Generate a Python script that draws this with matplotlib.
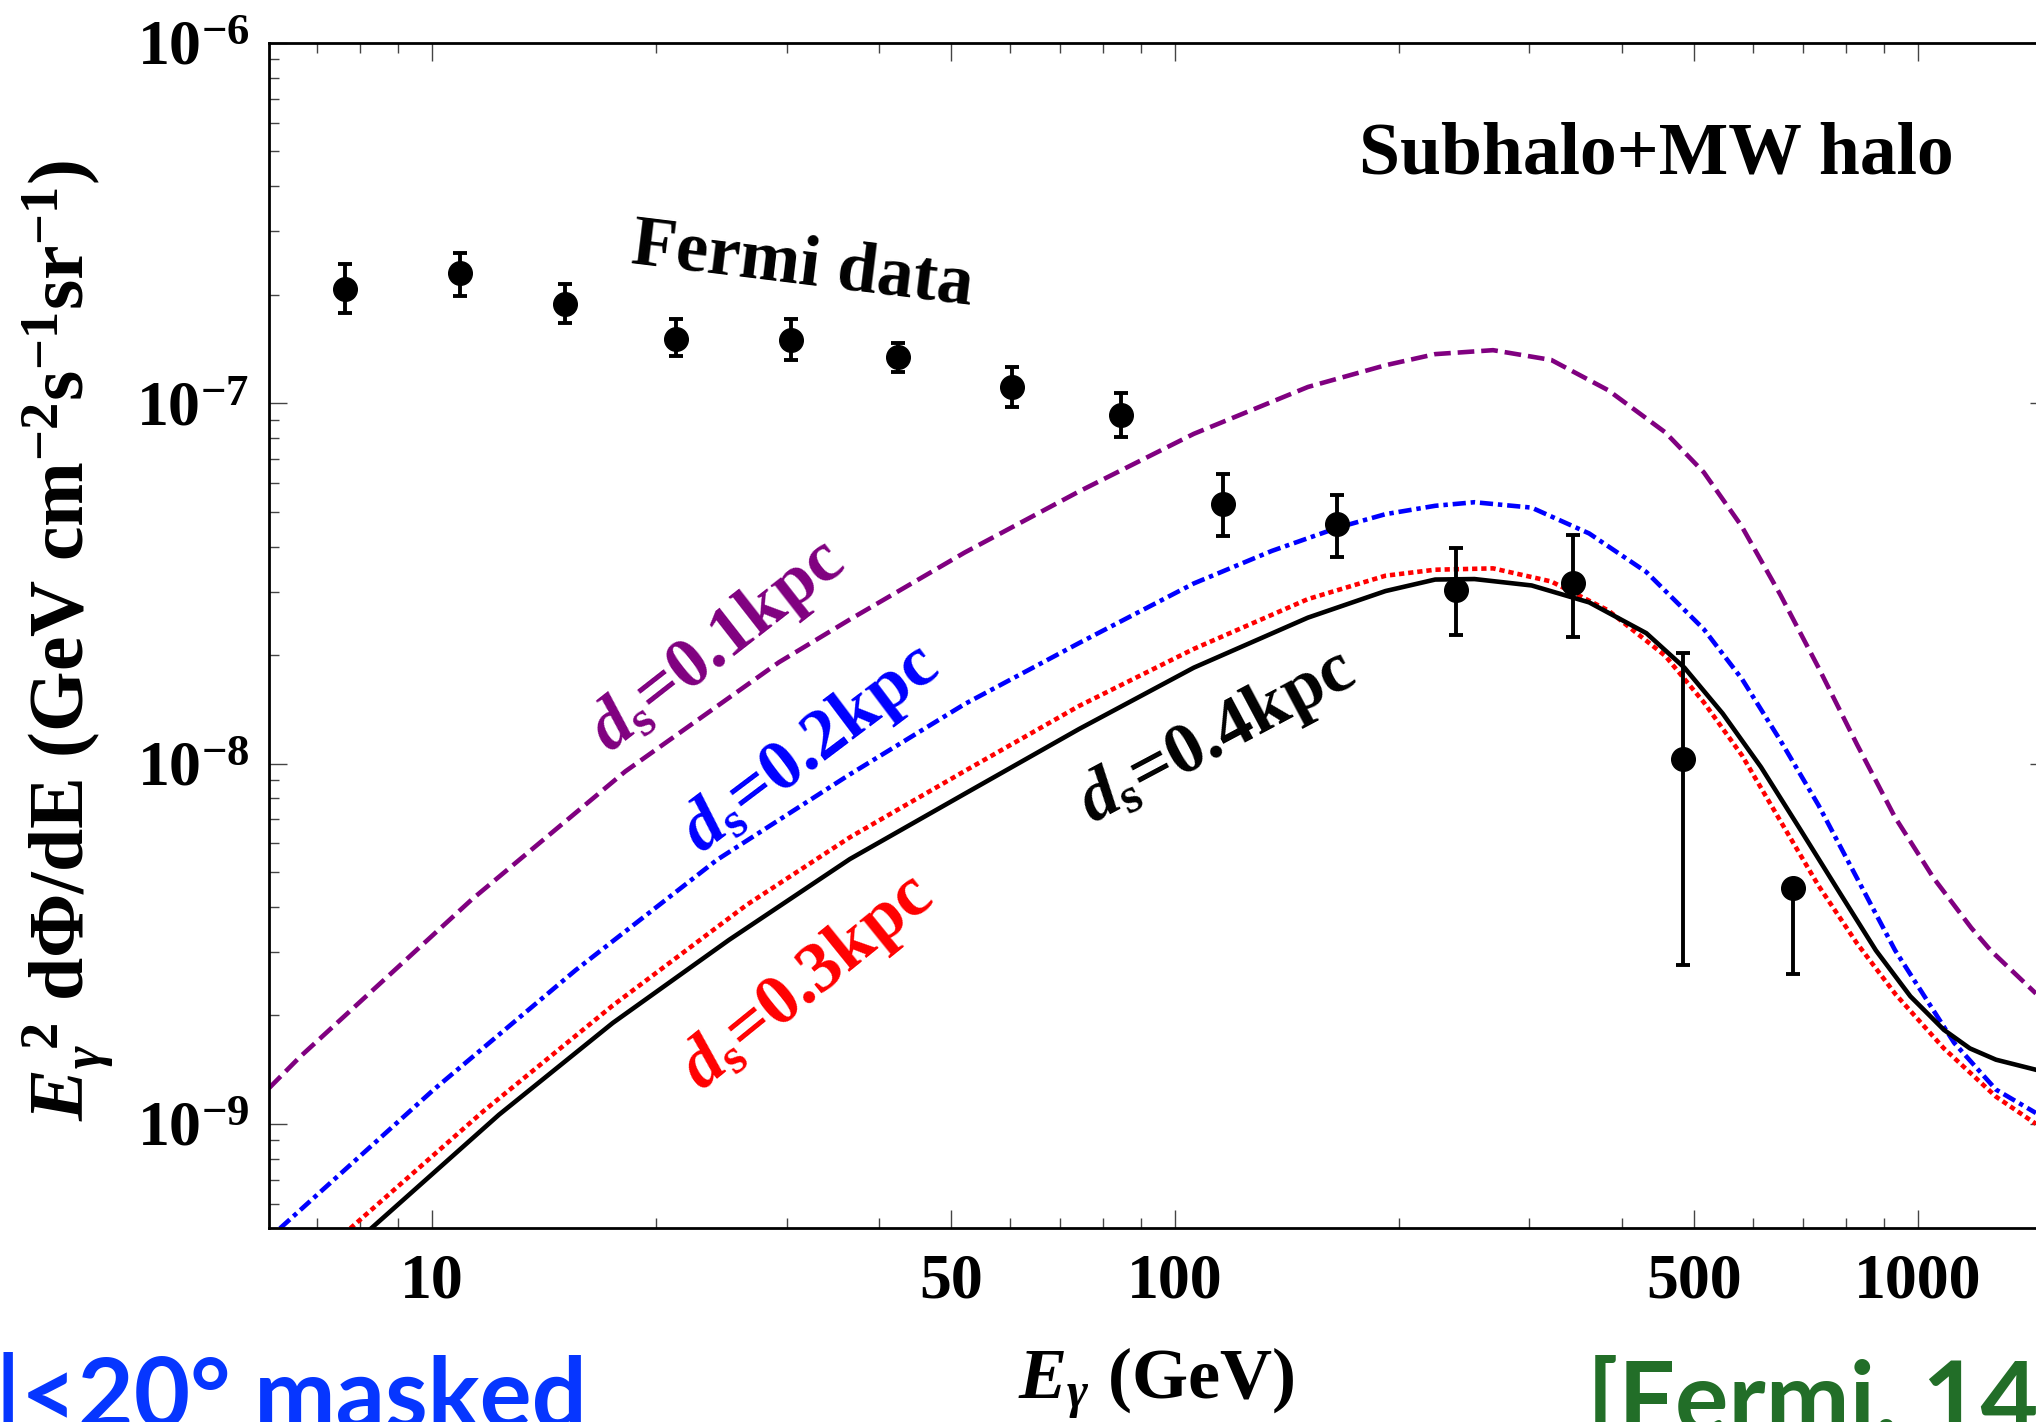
import numpy as np
import matplotlib
matplotlib.use("Agg")
import matplotlib.pyplot as plt

# Fermi IGRB points (GeV, GeV cm^-2 s^-1 sr^-1) with upper / lower error ends
fermi_e = [7.64, 10.9, 15.1, 21.3, 30.4, 42.4, 60.4, 84.5, 116, 165, 239, 343, 483, 680]
fermi_flux = [2.08e-7, 2.29e-7, 1.89e-7, 1.51e-7, 1.50e-7, 1.34e-7, 1.11e-7, 9.27e-8,
              5.25e-8, 4.61e-8, 3.03e-8, 3.16e-8, 1.03e-8, 4.52e-9]
fermi_hi = [2.44e-7, 2.61e-7, 2.14e-7, 1.71e-7, 1.71e-7, 1.47e-7, 1.26e-7, 1.07e-7,
            6.37e-8, 5.57e-8, 3.96e-8, 4.32e-8, 2.02e-8, 4.52e-9]
fermi_lo = [1.78e-7, 1.98e-7, 1.67e-7, 1.35e-7, 1.32e-7, 1.22e-7, 9.73e-8, 8.04e-8,
            4.29e-8, 3.75e-8, 2.27e-8, 2.25e-8, 2.76e-9, 2.61e-9]

# subhalo + MW halo spectra for the four subhalo distances
e_01 = [6.03, 6.64, 11.3, 18.2, 29.3, 36.5, 52.1, 74.3, 106, 151, 192, 224, 268, 321,
        383, 457, 515, 579, 653, 735, 828, 931, 1050, 1180, 1253, 1442]
f_01 = [1.256e-9, 1.535e-9, 4.19e-9, 9.51e-9, 1.91e-8, 2.51e-8, 3.85e-8, 5.69e-8, 8.22e-8,
        1.109e-7, 1.274e-7, 1.368e-7, 1.403e-7, 1.318e-7, 1.086e-7, 8.30e-8, 6.43e-8,
        4.56e-8, 2.94e-8, 1.845e-8, 1.13e-8, 7.11e-9, 4.81e-9, 3.50e-9, 3.03e-9, 2.30e-9]

e_02 = [6.24, 10.05, 15.6, 24.2, 36.5, 52.1, 74.3, 106, 135, 166, 192, 224, 253, 302,
        361, 431, 515, 580, 653, 735, 828, 932, 1119, 1274, 1442]
f_02 = [5.13e-10, 1.245e-9, 2.67e-9, 5.41e-9, 9.33e-9, 1.462e-8, 2.16e-8, 3.16e-8, 3.89e-8,
        4.52e-8, 4.92e-8, 5.19e-8, 5.31e-8, 5.13e-8, 4.35e-8, 3.40e-8, 2.36e-8, 1.714e-8,
        1.159e-8, 7.66e-9, 4.81e-9, 3.03e-9, 1.679e-9, 1.245e-9, 1.072e-9]

e_03 = [7.76, 11.7, 17.5, 26.5, 36.5, 52.1, 74.3, 106, 151, 192, 224, 268, 321, 383,
        457, 515, 580, 653, 735, 828, 933, 1084, 1274, 1442]
f_03 = [5.13e-10, 1.081e-9, 2.13e-9, 4.05e-9, 6.24e-9, 9.53e-9, 1.445e-8, 2.08e-8, 2.86e-8,
        3.32e-8, 3.45e-8, 3.48e-8, 3.20e-8, 2.66e-8, 1.99e-8, 1.479e-8, 1.052e-8, 6.93e-9,
        4.58e-9, 3.17e-9, 2.29e-9, 1.62e-9, 1.19e-9, 1.0e-9]

e_04 = [8.28, 12.3, 17.5, 25.1, 36.5, 52.1, 74.3, 106, 151, 192, 224, 253, 302, 361,
        431, 485, 546, 615, 693, 780, 878, 977, 1084, 1175, 1274, 1442]
f_04 = [5.13e-10, 1.06e-9, 1.905e-9, 3.24e-9, 5.43e-9, 8.24e-9, 1.247e-8, 1.845e-8, 2.54e-8,
        3.01e-8, 3.24e-8, 3.25e-8, 3.12e-8, 2.80e-8, 2.30e-8, 1.845e-8, 1.377e-8, 9.77e-9,
        6.61e-9, 4.47e-9, 3.03e-9, 2.26e-9, 1.824e-9, 1.62e-9, 1.507e-9, 1.413e-9]

x_major = [10, 50, 100, 500, 1000]
x_major_labels = ["10", "50", "100", "500", "1000"]
x_minor = [7, 8, 9, 20, 30, 40, 60, 70, 80, 90, 200, 300, 400, 600, 700, 800, 900]
y_major = [1e-9, 1e-8, 1e-7, 1e-6]
y_major_labels = [r"10$^{-9}$", r"10$^{-8}$", r"10$^{-7}$", r"10$^{-6}$"]

plt.rcParams.update({
    "font.family": ["Liberation Serif", "DejaVu Serif"],
    "font.weight": "bold",
    "axes.labelweight": "bold",
    "mathtext.fontset": "custom",
    "mathtext.rm": "Liberation Serif:bold",
    "mathtext.it": "Liberation Serif:italic:bold",
    "mathtext.bf": "Liberation Serif:bold",
    "lines.scale_dashes": False,
})

fig = plt.figure(figsize=(20.36, 14.22), dpi=100)
ax = fig.add_axes([0.1321, 0.1364, 0.8738, 0.8335])
ax.set_xscale("log")
ax.set_yscale("log")
ax.set_xlim(6.03, 1497)
ax.set_ylim(5.14e-10, 1e-6)

lw = 3.3
l1, = ax.plot(e_01, f_01, color="#800080", lw=lw)
l1.set_dashes([12, 5])
l2, = ax.plot(e_02, f_02, color="#0000ff", lw=lw)
l2.set_dashes([9.5, 3.5, 3.2, 3.5])
l3, = ax.plot(e_03, f_03, color="#ff0000", lw=lw)
l3.set_dashes([3.8, 2.8])
ax.plot(e_04, f_04, color="black", lw=lw)

flux = np.array(fermi_flux)
yerr = [flux - np.array(fermi_lo), np.array(fermi_hi) - flux]
ax.errorbar(fermi_e, flux, yerr=yerr, fmt="o", color="black", ms=17,
            elinewidth=2.8, capsize=5, capthick=2.8)

# frame and ticks
for sp in ax.spines.values():
    sp.set_linewidth(2.0)
ax.set_xticks(x_major)
ax.set_xticklabels(x_major_labels)
ax.set_xticks(x_minor, minor=True)
ax.set_xticklabels([], minor=True)
ax.set_yticks(y_major)
ax.set_yticklabels(y_major_labels)
ax.yaxis.set_minor_locator(matplotlib.ticker.LogLocator(base=10, subs=np.arange(2, 10)))
ax.yaxis.set_minor_formatter(matplotlib.ticker.NullFormatter())
ax.tick_params(which="both", direction="in", top=True, right=True, color="#444444", width=1.0)
ax.tick_params(which="major", length=13, labelsize=46)
ax.tick_params(which="minor", length=7)
ax.tick_params(axis="x", which="major", pad=18)
ax.tick_params(axis="y", which="major", pad=14)

ax.set_xlabel(r"$E_{\gamma}$ (GeV)", fontsize=52)
ax.xaxis.label.set_va("center")
ax.xaxis.set_label_coords(0.4986, -0.131)
ax.set_ylabel(r"$E_{\gamma}^{\ 2}$ d$\Phi$/dE (GeV cm$^{-2}$s$^{-1}$sr$^{-1}$)", fontsize=56)
ax.yaxis.label.set_va("center")
ax.yaxis.set_label_coords(-0.113, 0.496)

# annotations
ax.text(444, 4.86e-7, "Subhalo+MW halo", fontsize=53, ha="center", va="center")
ax.text(31.5, 2.40e-7, "Fermi data", fontsize=52, ha="center", va="center",
        rotation=-7, rotation_mode="anchor")
lab = dict(fontsize=52, ha="center", va="center", rotation_mode="anchor")
ax.text(24.2, 2.11e-8, r"$d_{\mathrm{s}}$=0.1kpc", color="#800080", rotation=38, **lab)
ax.text(32.3, 1.09e-8, r"$d_{\mathrm{s}}$=0.2kpc", color="#0000ff", rotation=37, **lab)
ax.text(32.0, 2.46e-9, r"$d_{\mathrm{s}}$=0.3kpc", color="#ff0000", rotation=39, **lab)
ax.text(114, 1.18e-8, r"$d_{\mathrm{s}}$=0.4kpc", color="black", rotation=28, **lab)

# slide captions along the bottom edge
fig.text(0.288, -0.004, "|b|<20° masked", fontsize=70, family="Lato", weight="bold",
         color="#0636ff", ha="right", va="baseline")
fig.text(0.7793, -0.008, "[Fermi, 1410.3696]", fontsize=72, family="Lato", weight="bold",
         color="#226e28", ha="left", va="baseline")

fig.savefig("out.png", dpi=100)
